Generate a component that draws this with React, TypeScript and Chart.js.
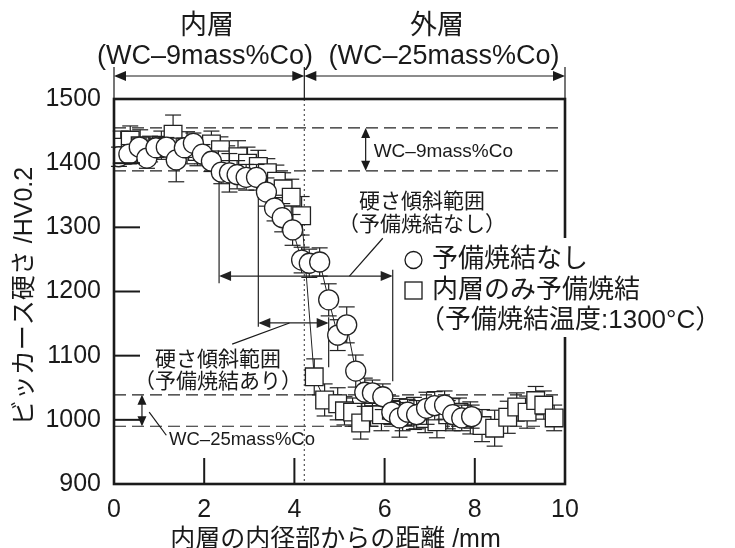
import React, { useEffect, useRef } from 'react';
import { Chart, registerables } from 'chart.js';

Chart.register(...registerables);

// ---- data ----
const xTickValues = [0, 2, 4, 6, 8, 10];
const yTickValues = [900, 1000, 1100, 1200, 1300, 1400, 1500];

// 予備焼結なし (circles)
const circleX = [0.11, 0.33, 0.56, 0.73, 0.93, 1.16, 1.38, 1.56, 1.76, 1.96, 2.16, 2.38, 2.56, 2.73, 2.93, 3.16, 3.38, 3.56, 3.73, 3.96, 4.16, 4.33, 4.56, 4.76, 4.96, 5.16, 5.36, 5.56, 5.73, 5.96, 6.16, 6.33, 6.51, 6.71, 6.93, 7.11, 7.33, 7.51, 7.71, 7.93];
const circleY = [1410, 1414, 1425, 1408, 1424, 1425, 1405, 1424, 1431, 1414, 1403, 1386, 1385, 1382, 1378, 1378, 1355, 1330, 1315, 1296, 1249, 1244, 1246, 1187, 1132, 1148, 1076, 1043, 1042, 1036, 1012, 1003, 1012, 1008, 1018, 1022, 1023, 1008, 1003, 1005];
const circleErr = [15, 15, 14, 16, 15, 15, 34, 15, 16, 15, 16, 18, 30, 22, 20, 20, 22, 20, 22, 24, 20, 22, 22, 25, 24, 28, 25, 22, 20, 20, 18, 30, 20, 22, 25, 22, 22, 25, 20, 18];

// 内層のみ予備焼結 (squares)
const squareX = [0.15, 0.36, 0.58, 0.8, 1.05, 1.31, 1.62, 1.85, 2.16, 2.36, 2.51, 2.75, 2.96, 3.2, 3.4, 3.6, 3.75, 3.93, 4.16, 4.44, 4.67, 4.96, 5.11, 5.29, 5.47, 5.69, 5.93, 6.15, 6.4, 6.65, 6.9, 7.16, 7.4, 7.65, 7.9, 8.16, 8.44, 8.73, 8.93, 9.16, 9.35, 9.53, 9.76];
const squareY = [1425, 1436, 1427, 1422, 1428, 1445, 1424, 1418, 1430, 1421, 1405, 1410, 1400, 1395, 1385, 1372, 1360, 1347, 1318, 1067, 1031, 1025, 1014, 1012, 995, 1012, 1008, 1015, 1005, 1010, 1002, 997, 1008, 1012, 1003, 991, 987, 1004, 1020, 1012, 1030, 1023, 1003];
const squareErr = [25, 22, 25, 20, 22, 30, 25, 22, 20, 20, 22, 25, 25, 25, 22, 25, 25, 28, 30, 28, 25, 25, 22, 22, 25, 22, 25, 22, 22, 25, 22, 25, 22, 22, 25, 25, 28, 25, 22, 25, 22, 22, 20];

// annotation values (data units)
const inner9Band = [1388, 1455];
const outer25Band = [990, 1039];
const boundaryX = 4.22;
const rangeNoPre = [2.33, 6.18];
const rangeNoPreY = 1224;
const rangeWithPre = [3.2, 4.76];
const rangeWithPreY = 1151;

const FONT = '"Liberation Sans", "Noto Sans CJK JP", sans-serif';

function line(ctx: CanvasRenderingContext2D, x1: number, y1: number, x2: number, y2: number) {
  ctx.beginPath();
  ctx.moveTo(x1, y1);
  ctx.lineTo(x2, y2);
  ctx.stroke();
}

function head(ctx: CanvasRenderingContext2D, x: number, y: number, dx: number, dy: number, len = 12, hw = 5) {
  const bx = x - dx * len, by = y - dy * len;
  const px = -dy, py = dx;
  ctx.beginPath();
  ctx.moveTo(x, y);
  ctx.lineTo(bx + px * hw, by + py * hw);
  ctx.lineTo(bx - px * hw, by - py * hw);
  ctx.closePath();
  ctx.fill();
}

function dblArrowH(ctx: CanvasRenderingContext2D, x1: number, x2: number, y: number, len = 12, hw = 5) {
  line(ctx, x1 + 2, y, x2 - 2, y);
  head(ctx, x1, y, -1, 0, len, hw);
  head(ctx, x2, y, 1, 0, len, hw);
}

function dblArrowV(ctx: CanvasRenderingContext2D, x: number, y1: number, y2: number, len = 10, hw = 4.5) {
  line(ctx, x, y1 + 2, x, y2 - 2);
  head(ctx, x, y1, 0, -1, len, hw);
  head(ctx, x, y2, 0, 1, len, hw);
}

function text(ctx: CanvasRenderingContext2D, s: string, x: number, y: number, size: number, align: CanvasTextAlign = 'center', baseline: CanvasTextBaseline = 'middle') {
  ctx.font = `${size}px ${FONT}`;
  ctx.textAlign = align;
  ctx.textBaseline = baseline;
  ctx.fillText(s, x, y);
}

const annotPlugin = {
  id: 'annot',
  beforeDatasetsDraw(chart: any) {
    const { ctx, scales } = chart;
    const X = (v: number) => scales.x.getPixelForValue(v);
    const Y = (v: number) => scales.y.getPixelForValue(v);
    ctx.save();
    ctx.strokeStyle = '#222';
    ctx.fillStyle = '#222';
    ctx.lineWidth = 1.2;
    ctx.setLineDash([12, 6]);
    for (const v of [...inner9Band, ...outer25Band]) line(ctx, X(0), Y(v), X(10), Y(v));
    ctx.setLineDash([2, 3]);
    ctx.strokeStyle = '#555';
    line(ctx, X(boundaryX), Y(1500), X(boundaryX), Y(900));
    ctx.setLineDash([]);
    ctx.strokeStyle = '#222';
    ctx.lineWidth = 1.2;
    line(ctx, X(rangeNoPre[0]), Y(1382), X(rangeNoPre[0]), Y(1213));
    line(ctx, X(rangeNoPre[1]), Y(1234), X(rangeNoPre[1]), Y(1060));
    dblArrowH(ctx, X(rangeNoPre[0]), X(rangeNoPre[1]), Y(rangeNoPreY));
    line(ctx, X(rangeWithPre[0]), Y(1420), X(rangeWithPre[0]), Y(1145));
    line(ctx, X(rangeWithPre[1]), Y(1160), X(rangeWithPre[1]), Y(1082));
    dblArrowH(ctx, X(rangeWithPre[0]), X(rangeWithPre[1]), Y(rangeWithPreY));
    ctx.restore();
  },
  beforeDatasetDraw(chart: any, args: any) {
    const { ctx, scales } = chart;
    const X = (v: number) => scales.x.getPixelForValue(v);
    const Y = (v: number) => scales.y.getPixelForValue(v);
    const xs = args.index === 0 ? circleX : squareX;
    const ys = args.index === 0 ? circleY : squareY;
    const es = args.index === 0 ? circleErr : squareErr;
    ctx.save();
    ctx.strokeStyle = '#222';
    ctx.lineWidth = 1.2;
    for (let i = 0; i < xs.length; i++) {
      const px = X(xs[i]);
      const t = Y(ys[i] + es[i]);
      const b = Y(ys[i] - es[i]);
      line(ctx, px, t, px, b);
      line(ctx, px - 8, t, px + 8, t);
      line(ctx, px - 8, b, px + 8, b);
    }
    ctx.restore();
  },
  afterDatasetsDraw(chart: any) {
    const { ctx, scales, chartArea: ca } = chart;
    const X = (v: number) => scales.x.getPixelForValue(v);
    const Y = (v: number) => scales.y.getPixelForValue(v);
    ctx.save();
    ctx.strokeStyle = '#1a1a1a';
    ctx.fillStyle = '#1a1a1a';

    ctx.lineWidth = 2.6;
    ctx.strokeRect(ca.left, ca.top, ca.right - ca.left, ca.bottom - ca.top);
    ctx.lineWidth = 2;
    for (const v of xTickValues) line(ctx, X(v), ca.bottom, X(v), ca.bottom - 26);
    for (const v of yTickValues) line(ctx, ca.left, Y(v), ca.left + 26, Y(v));

    for (const v of xTickValues) text(ctx, String(v), X(v), 510, 25);
    for (const v of yTickValues) text(ctx, String(v), 101, Y(v), 25, 'right');

    text(ctx, '内層の内径部からの距離 /mm', (ca.left + ca.right) / 2 - 4, 540, 25);
    ctx.save();
    ctx.translate(25, 296);
    ctx.rotate(-Math.PI / 2);
    text(ctx, 'ビッカース硬さ /HV0.2', 0, 0, 25);
    ctx.restore();

    ctx.lineWidth = 1.2;
    const yA = 76;
    line(ctx, X(0), 67, X(0), ca.top);
    line(ctx, X(boundaryX), 67, X(boundaryX), ca.top);
    line(ctx, X(10), 67, X(10), ca.top);
    dblArrowH(ctx, X(0), X(boundaryX), yA);
    dblArrowH(ctx, X(boundaryX), X(10), yA);
    text(ctx, '内層', 207, 27, 27);
    text(ctx, '(WC–9mass%Co)', 205, 57, 27);
    text(ctx, '外層', 437, 27, 27);
    text(ctx, '(WC–25mass%Co)', 444, 57, 27);

    ctx.lineWidth = 1.2;
    dblArrowV(ctx, X(5.58), Y(inner9Band[1]), Y(inner9Band[0]));
    text(ctx, 'WC–9mass%Co', X(5.58) + 8, Y(1418), 19, 'left');
    dblArrowV(ctx, X(0.62), Y(outer25Band[1]), Y(outer25Band[0]));
    line(ctx, X(0.78), Y(1012), X(1.16), Y(976));
    text(ctx, 'WC–25mass%Co', X(1.22), Y(968), 18.5, 'left');

    line(ctx, X(5.22), Y(rangeNoPreY), X(5.96), Y(1283));
    text(ctx, '硬さ傾斜範囲', 422, 202, 21);
    text(ctx, '（予備焼結なし）', 422, 225, 21);
    line(ctx, X(3.89), Y(rangeWithPreY), X(2.62), Y(1118));
    text(ctx, '硬さ傾斜範囲', 218, 360, 21);
    text(ctx, '（予備焼結あり）', 218, 382, 21);

    ctx.fillStyle = '#fff';
    ctx.fillRect(398, 238, 337, 99);
    ctx.fillStyle = '#1a1a1a';
    ctx.strokeStyle = '#1a1a1a';
    ctx.lineWidth = 1.3;
    ctx.beginPath();
    ctx.arc(413.5, 260, 8.5, 0, Math.PI * 2);
    ctx.stroke();
    ctx.strokeRect(405, 282, 17, 17);
    text(ctx, '予備焼結なし', 432, 260, 26, 'left');
    text(ctx, '内層のみ予備焼結', 432, 291, 26, 'left');
    text(ctx, '（予備焼結温度:1300°C）', 419, 321, 26, 'left');
    ctx.restore();
  },
};

export default function App() {
  const ref = useRef<HTMLCanvasElement | null>(null);
  useEffect(() => {
    if (!ref.current) return;
    const chart = new Chart(ref.current, {
      type: 'scatter',
      data: {
        datasets: [
          {
            label: '予備焼結なし',
            data: circleX.map((x, i) => ({ x, y: circleY[i] })),
            showLine: true,
            borderColor: '#222',
            borderWidth: 1,
            pointStyle: 'circle',
            pointRadius: 10,
            pointBorderWidth: 1.3,
            pointBackgroundColor: '#fff',
            pointBorderColor: '#222',
          },
          {
            label: '内層のみ予備焼結',
            data: squareX.map((x, i) => ({ x, y: squareY[i] })),
            showLine: true,
            borderColor: '#222',
            borderWidth: 1,
            pointStyle: 'rect',
            pointRadius: 12.5,
            pointBorderWidth: 1.3,
            pointBackgroundColor: '#fff',
            pointBorderColor: '#222',
          },
        ],
      },
      options: {
        animation: false,
        responsive: false,
        devicePixelRatio: 1,
        events: [],
        layout: { padding: { left: 114, right: 170, top: 99, bottom: 64 } },
        plugins: { legend: { display: false }, tooltip: { enabled: false } },
        scales: {
          x: { type: 'linear', min: 0, max: 10, display: false },
          y: { type: 'linear', min: 900, max: 1500, display: false },
        },
      } as any,
      plugins: [annotPlugin as any],
    });
    return () => chart.destroy();
  }, []);
  return (
    <div style={{ position: 'fixed', left: 0, top: 0, width: 735, height: 548, background: '#fff' }}>
      <canvas ref={ref} width={735} height={548} style={{ width: 735, height: 548, display: 'block' }} />
    </div>
  );
}
